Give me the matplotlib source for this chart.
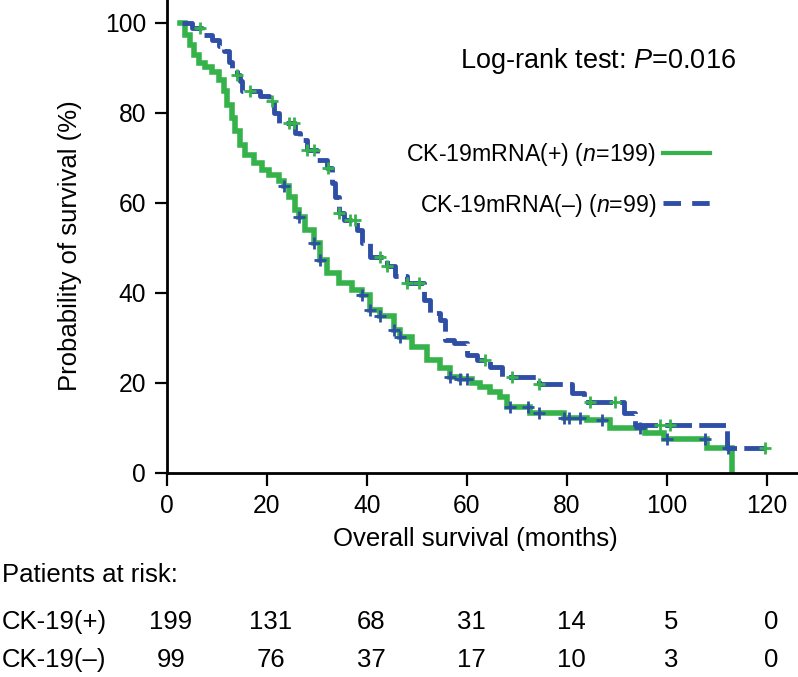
import numpy as np
import matplotlib
matplotlib.use('Agg')
import matplotlib.pyplot as plt
from matplotlib.lines import Line2D

plt.rcParams['font.family'] = ['Liberation Sans', 'DejaVu Sans']
plt.rcParams['mathtext.fontset'] = 'custom'
plt.rcParams['mathtext.rm'] = 'Liberation Sans'
plt.rcParams['mathtext.it'] = 'Liberation Sans:italic'

# CK-19mRNA(+) curve: step times (months) and survival (%)
pos_t = [2.6, 3.6, 4.6, 5.3, 6.3, 7.6, 8.9, 10.3, 11.3, 11.9, 12.9, 13.6, 14.6,
         15.6, 17.3, 18.9, 20.3, 22.3, 23.3, 24.3, 25.6, 26.3, 27.6, 29.3, 30.6,
         31.9, 34.3, 36.9, 38.9, 40.6, 42.6, 45.3, 46.6, 49.0, 51.9, 54.6, 56.6,
         58.6, 61.0, 62.5, 64.6, 66.6, 68.0, 72.6, 79.3, 84.0, 88.6, 95.5, 99.3,
         108.0, 113.0]
pos_s = [100, 97.3, 95.0, 92.8, 91.0, 90.2, 89.1, 87.3, 84.7, 81.7, 78.8, 75.8,
         72.8, 70.6, 68.8, 67.3, 66.2, 64.7, 63.6, 61.3, 58.4, 56.9, 53.9, 51.0,
         47.3, 44.3, 42.1, 40.6, 39.5, 36.1, 34.7, 31.7, 30.2, 28.0, 25.0, 23.3,
         21.3, 20.8, 19.9, 19.0, 18.0, 16.9, 14.7, 13.2, 12.2, 11.7, 9.9, 8.8,
         7.4, 5.4, 0]
pos_cens = [23.3, 26.3, 29.3, 30.6, 38.9, 40.6, 42.6, 45.3, 46.6, 56.6, 58.6,
            59.9, 68.6, 72.2, 74.3, 79.3, 80.3, 82.6, 87.0, 94.6, 100.0, 107.6,
            112.2]

# CK-19mRNA(-) curve
neg_t = [2.9, 4.9, 6.9, 8.9, 10.3, 11.3, 12.3, 12.9, 13.9, 14.6, 15.0, 18.6,
         20.3, 21.3, 22.3, 25.6, 26.6, 27.9, 29.9, 31.9, 32.9, 33.6, 34.3, 35.3,
         37.9, 38.9, 40.6, 43.9, 45.6, 47.9, 51.3, 52.6, 54.6, 55.6, 57.3, 60.0,
         62.0, 64.6, 66.9, 74.3, 80.9, 83.3, 91.3, 93.5, 112.0, 119.6]
neg_s = [100, 98.8, 97.3, 96.2, 94.7, 93.6, 91.3, 89.9, 88.4, 86.9, 84.7, 83.6,
         82.5, 79.9, 77.6, 75.4, 73.9, 71.7, 69.5, 67.6, 64.3, 61.3, 57.6, 56.1,
         53.9, 51.0, 48.0, 46.0, 43.6, 42.1, 38.4, 35.4, 33.9, 29.5, 28.8, 26.2,
         25.0, 23.5, 21.3, 19.7, 17.6, 15.8, 13.2, 10.6, 5.4, 5.4]
neg_cens = [6.6, 13.9, 16.6, 21.0, 24.3, 25.3, 28.0, 29.3, 32.2, 34.3, 36.6,
            37.6, 42.6, 43.9, 47.9, 50.3, 63.6, 69.0, 74.3, 84.6, 89.6, 98.6,
            100.6, 119.6]

risk_times = [0, 20, 40, 60, 80, 100, 120]
risk_pos = [199, 131, 68, 31, 14, 5, 0]
risk_neg = [99, 76, 37, 17, 10, 3, 0]

green = '#35b34a'
blue = '#2f4fa6'


def step_value(t_knots, s_knots, t):
    idx = np.searchsorted(t_knots, t, side='right') - 1
    return np.asarray(s_knots)[idx]


fig = plt.figure(figsize=(7.98, 6.77), dpi=100)
ax = fig.add_axes([167 / 798, 1 - 472.7 / 677, 631 / 798, 472.7 / 677])

ax.step(pos_t, pos_s, where='post', color=green, lw=4, solid_joinstyle='miter')
ax.step(neg_t, neg_s, where='post', color=blue, lw=3.5, dashes=(5.5, 1.5))

# censor marks (colours as in the original: swapped)
ax.plot(pos_cens, step_value(pos_t, pos_s, pos_cens), ls='none', marker='+',
        ms=9, mew=2, color=blue)
ax.plot(neg_cens, step_value(neg_t, neg_s, neg_cens), ls='none', marker='+',
        ms=9, mew=2, color=green)

ax.set_xlim(0, 126.2)
ax.set_ylim(0, 105)
ax.set_xticks(risk_times)
ax.set_yticks([0, 20, 40, 60, 80, 100])
ax.spines['top'].set_visible(False)
ax.spines['right'].set_visible(False)
for sp in ['left', 'bottom']:
    ax.spines[sp].set_linewidth(2)
ax.tick_params(direction='out', length=9, width=1.6, labelsize=17.7, pad=6)

ax.set_xlabel('Overall survival (months)', fontsize=18.5)
ax.set_ylabel('Probability of survival (%)', fontsize=18.5)
ax.xaxis.set_label_coords(0.488, -0.115)
ax.yaxis.set_label_coords(-0.135, 0.48)

ax.text(58.6, 91.5, r'Log-rank test: $\it{P}$=0.016', fontsize=19.5,
        ha='left', va='center')

handles = [Line2D([], [], color=green, lw=3),
           Line2D([], [], color=blue, lw=3.5, dashes=(3.6, 2.3))]
labels = [r'CK-19mRNA(+) ($\it{n}$=199)', r'CK-19mRNA(–) ($\it{n}$=99)']
ax.legend(handles, labels, markerfirst=False, frameon=False, fontsize=16.7,
          loc='upper right', bbox_to_anchor=(0.893, 0.745), handlelength=2.0,
          handletextpad=0.3, labelspacing=1.0)

# patients at risk table
tr = ax.get_xaxis_transform()
fig.text(0.002, 1 - 575 / 677, 'Patients at risk:', fontsize=18.5, va='center')
fig.text(0.002, 1 - 622 / 677, 'CK-19(+)', fontsize=18.5, va='center')
fig.text(0.002, 1 - 660 / 677, 'CK-19(–)', fontsize=18.5, va='center')
for t, a, b in zip(risk_times, risk_pos, risk_neg):
    ax.text(t + 0.8, (472.7 - 622) / 472.7, str(a), transform=tr, fontsize=18.5,
            ha='center', va='center', clip_on=False)
    ax.text(t + 0.8, (472.7 - 660) / 472.7, str(b), transform=tr, fontsize=18.5,
            ha='center', va='center', clip_on=False)

fig.savefig('out.png', dpi=100)
